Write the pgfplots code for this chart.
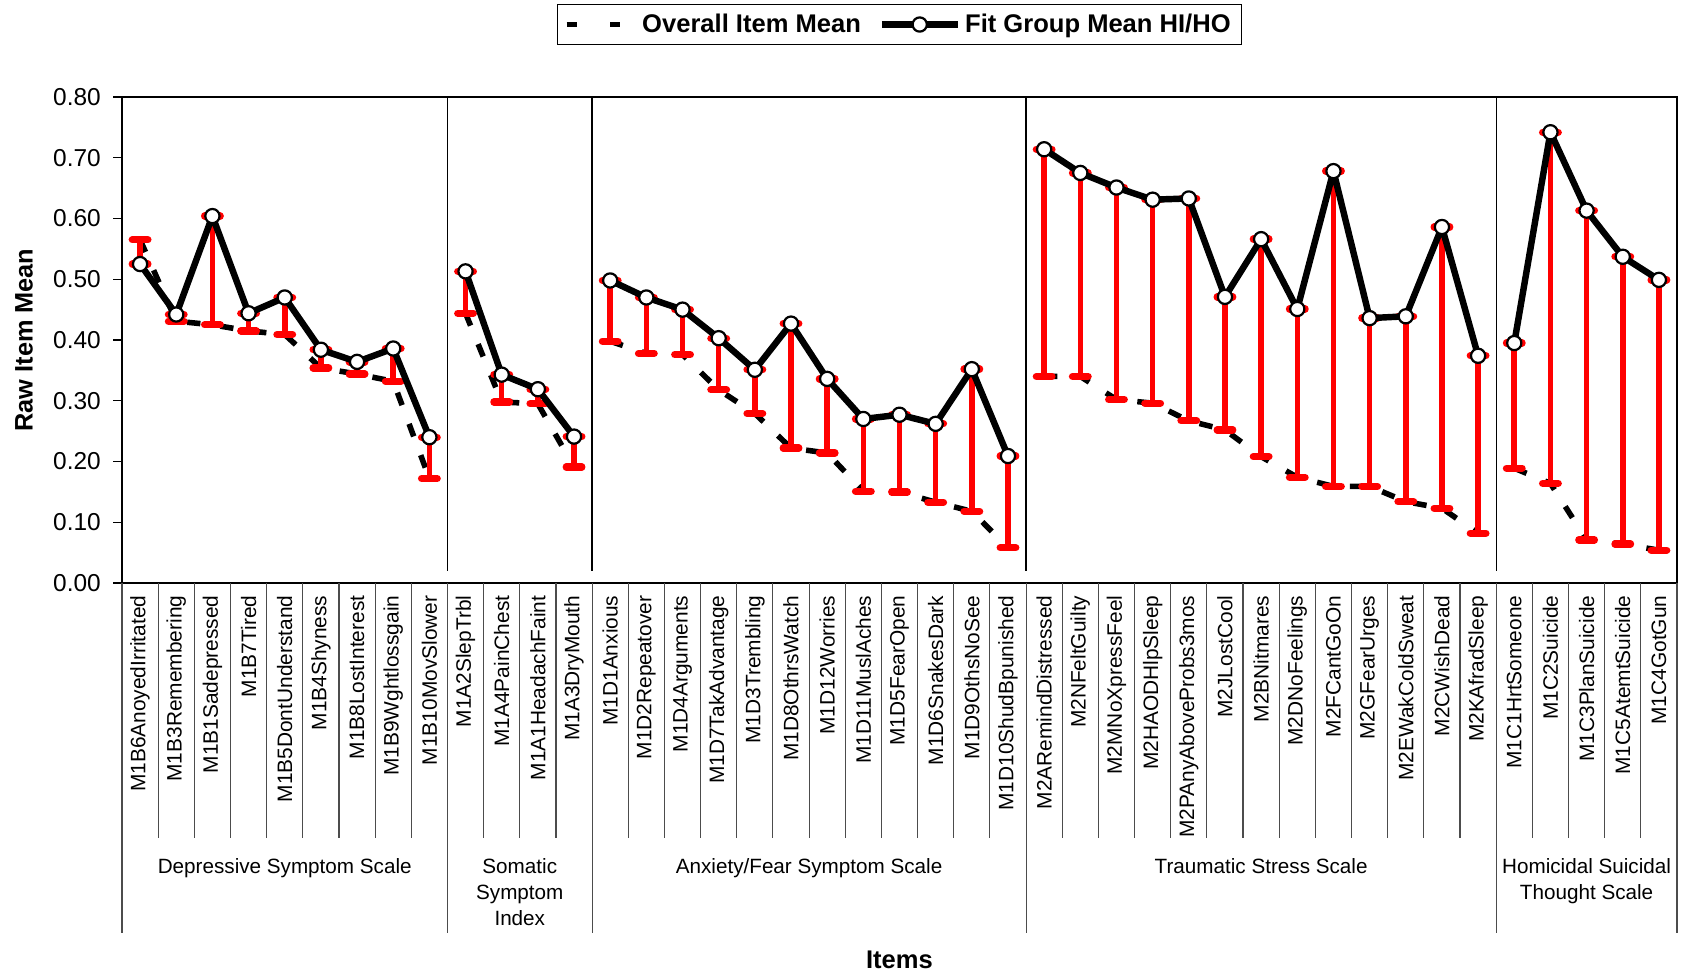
\documentclass[border=0pt]{standalone}
\usepackage{pgfplots}
\pgfplotsset{compat=1.18}
\usepackage{pgfplotstable}
\usepackage{fontspec}
\setmainfont{Liberation Sans}

\pgfplotstableread{
x fit overall
0 0.525 0.565
1 0.442 0.431
2 0.604 0.425
3 0.444 0.415
4 0.470 0.409
5 0.384 0.354
6 0.364 0.344
7 0.386 0.332
8 0.240 0.172
8.5 nan nan
9 0.513 0.444
10 0.343 0.298
11 0.319 0.295
12 0.241 0.191
12.5 nan nan
13 0.498 0.398
14 0.470 0.378
15 0.450 0.376
16 0.403 0.318
17 0.351 0.279
18 0.427 0.222
19 0.336 0.214
20 0.270 0.151
21 0.277 0.150
22 0.262 0.133
23 0.352 0.118
24 0.209 0.058
24.5 nan nan
25 0.714 0.340
26 0.675 0.340
27 0.651 0.302
28 0.631 0.296
29 0.633 0.267
30 0.471 0.252
31 0.566 0.208
32 0.451 0.174
33 0.678 0.159
34 0.436 0.159
35 0.439 0.134
36 0.586 0.123
37 0.374 0.082
37.5 nan nan
38 0.395 0.189
39 0.742 0.164
40 0.613 0.071
41 0.537 0.064
42 0.499 0.054
}\datatable

\begin{document}
\begin{tikzpicture}
\useasboundingbox (0,0) rectangle (760.95pt,437.85pt);
\begin{axis}[
  at={(54.9pt,175.5pt)}, anchor=south west,
  scale only axis, width=699.75pt, height=218.7pt,
  xmin=-0.5, xmax=42.5, ymin=0, ymax=0.8,
  unbounded coords=jump,
  clip=false,
  axis line style={line width=0.9pt},
  xtick={0,...,42},
  xticklabels={M1B6AnoyedIrritated,M1B3Remembering,M1B1Sadepressed,M1B7Tired,M1B5DontUnderstand,M1B4Shyness,M1B8LostInterest,M1B9Wghtlossgain,M1B10MovSlower,
    M1A2SlepTrbl,M1A4PainChest,M1A1HeadachFaint,M1A3DryMouth,
    M1D1Anxious,M1D2Repeatover,M1D4Arguments,M1D7TakAdvantage,M1D3Trembling,M1D8OthrsWatch,M1D12Worries,M1D11MuslAches,M1D5FearOpen,M1D6SnakesDark,M1D9OthsNoSee,M1D10ShudBpunished,
    M2ARemindDistressed,M2NFeltGuilty,M2MNoXpressFeel,M2HAODHlpSleep,M2PAnyAboveProbs3mos,M2JLostCool,M2BNitmares,M2DNoFeelings,M2FCantGoOn,M2GFearUrges,M2EWakColdSweat,M2CWishDead,M2KAfradSleep,
    M1C1HrtSomeone,M1C2Suicide,M1C3PlanSuicide,M1C5AtemtSuicide,M1C4GotGun},
  xtick style={draw=none},
  xticklabel style={rotate=90, anchor=east, inner sep=0pt, font=\fontsize{9.4}{11}\selectfont},
  xticklabel shift=1.5pt,
  ytick={0,0.1,0.2,0.3,0.4,0.5,0.6,0.7,0.8},
  ytick pos=left,
  tick align=outside,
  major tick length=4pt,
  ytick style={black, line width=0.6pt},
  yticklabel style={font=\fontsize{11}{13}\selectfont, /pgf/number format/.cd, fixed, fixed zerofill, precision=2, assume math mode=true},
  yticklabel shift=2pt,
  ylabel={Raw Item Mean},
  ylabel style={at={(axis description cs:-0.063,0.5)}, anchor=center, font=\bfseries\fontsize{11.4}{13}\selectfont},
  xlabel={Items},
  xlabel style={at={(axis description cs:0.5,-0.7757)}, anchor=center, font=\bfseries\fontsize{11.5}{13}\selectfont},
  legend style={at={(axis description cs:0.5,1)}, anchor=south, yshift=23.4pt, draw=black, line width=0.6pt,
    font=\bfseries\fontsize{11.5}{13}\selectfont, legend columns=2,
    /tikz/every even column/.append style={column sep=6pt}},
  legend image code/.code={\draw[mark repeat=2,mark phase=2,#1] plot coordinates {(0pt,0pt) (17pt,0pt) (34pt,0pt)};},
]
% group separators inside the plot
\pgfplotsinvokeforeach{8.5,12.5,24.5,37.5}{\draw[black, line width=0.6pt] (axis cs:#1,0.8) -- (axis cs:#1,0.02);}
% category table lines below the axis
\pgfplotsinvokeforeach{0,...,41}{\draw[black!70, line width=0.5pt] (axis cs:#1.5,0) -- ++(0pt,-114.75pt);}
\pgfplotsinvokeforeach{-0.5,8.5,12.5,24.5,37.5,42.5}{\draw[black!70, line width=0.5pt] (axis cs:#1,0) -- ++(0pt,-157.5pt);}
% group names
\begin{scope}[every node/.style={anchor=north, align=center, inner sep=0pt, yshift=-124pt, font=\fontsize{9.3}{11.7}\selectfont}]
\node at (axis cs:4,0) {Depressive Symptom Scale};
\node at (axis cs:10.5,0) {Somatic\\Symptom\\Index};
\node at (axis cs:18.5,0) {Anxiety/Fear Symptom Scale};
\node at (axis cs:31,0) {Traumatic Stress Scale};
\node at (axis cs:40,0) {Homicidal Suicidal\\Thought Scale};
\end{scope}

\addplot[black, line width=2.5pt, dash pattern=on 6pt off 9pt, mark=none,
  legend image code/.code={\draw[##1, solid] (0pt,0pt) -- (4.5pt,0pt); \draw[##1, solid] (19.5pt,0pt) -- (24pt,0pt); \path[draw=none] (0pt,0pt) -- (32pt,0pt);},
  error bars/.cd, y dir=plus, y explicit,
  error bar style={solid, red, line width=2.5pt},
  error mark=|, error mark options={solid, red, line width=3.3pt, line cap=round, mark size=3.5pt}]
  table[x=x, y=overall, y error expr=\thisrow{fit}-\thisrow{overall}] {\datatable};
\addplot[forget plot, draw=none, mark=none,
  error bars/.cd, y dir=minus, y explicit,
  error bar style={solid, draw=red, line width=2.5pt},
  error mark=|, error mark options={solid, draw=red, line width=3.3pt, line cap=round, mark size=3.5pt}]
  table[x=x, y=fit, y error expr=\thisrow{fit}-\thisrow{overall}] {\datatable};
\addplot[black, line width=2.9pt, line join=round, mark=*, mark size=3.2pt,
  mark options={solid, fill=white, draw=black, line width=1pt}]
  table[x=x, y=fit] {\datatable};
\legend{Overall Item Mean, Fit Group Mean HI/HO}
\end{axis}
\end{tikzpicture}
\end{document}
